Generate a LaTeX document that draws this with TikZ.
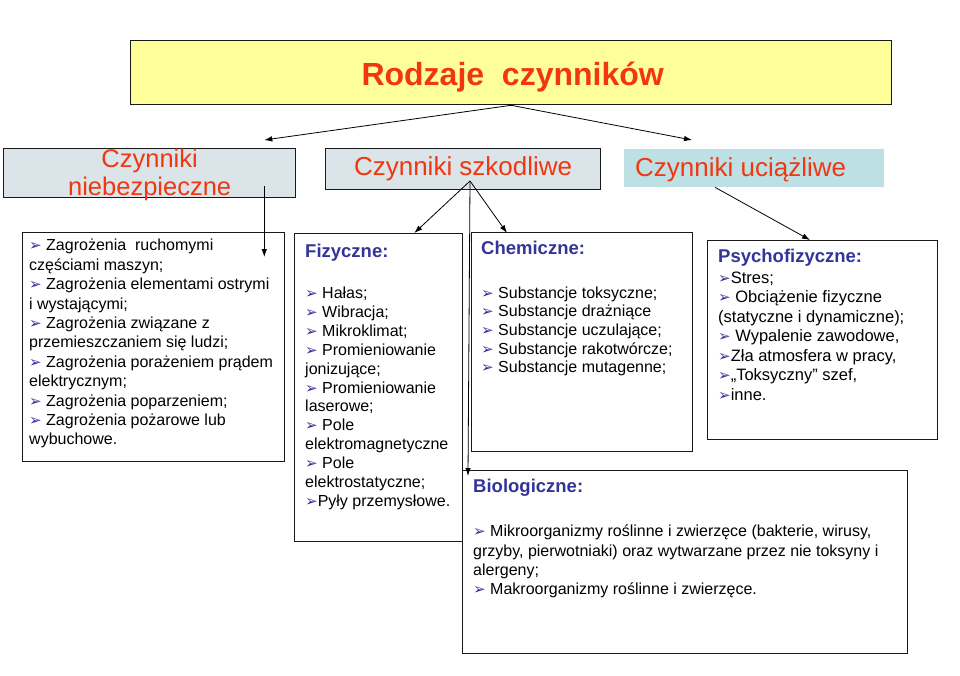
\documentclass[tikz,border=0pt]{standalone}
\usepackage{fontspec}
\setmainfont{Liberation Sans}
\newfontfamily\dingfont{DejaVu Sans}
\usetikzlibrary{positioning, arrows.meta}

\definecolor{headred}{RGB}{240,55,15}
\definecolor{headnavy}{RGB}{51,51,153}
\definecolor{titlefill}{RGB}{255,255,153}
\definecolor{greyblue}{RGB}{218,228,233}
\definecolor{paleteal}{RGB}{189,224,229}

\newcommand{\bul}{{\dingfont\fontsize{15}{15}\selectfont\color{headnavy}➢}}
\newcommand{\boxhead}[1]{{\color{headnavy}\bfseries\fontsize{18.5}{20}\selectfont #1}}

\begin{document}
\begin{tikzpicture}[x=1pt, y=-1pt,
		>={Latex[length=8pt, width=5.5pt]},
		panel/.style={draw=black!90, line width=1.3pt, inner sep=0pt, anchor=north west},
		kind/.style={text=headred, font=\fontsize{26}{28}\selectfont, inner sep=0pt},
		listtext/.style={inner sep=0pt, align=left, font=\fontsize{16}{19.4}\selectfont},
		link/.style={->, line width=0.8pt}
		]
		\useasboundingbox (0,0) rectangle (960,675);
		
		% --- 1. Title ---
		\node[panel, fill=titlefill, minimum width=761pt, minimum height=64pt] (title) at (130,40) {};
		\node[kind, font=\fontsize{32}{34}\selectfont\bfseries] (titlelbl) at ([xshift=1.5pt, yshift=-4pt]title.center) {Rodzaje\ \ czynników};
		
		% --- 2. The three kinds ---
		\node[panel, fill=greyblue, minimum width=292pt, minimum height=49pt] (nieb) at (3,148) {};
		\node[kind, align=center, below=0.5pt of nieb.north, font=\fontsize{25.5}{28}\selectfont] (nieblbl) {Czynniki\\niebezpieczne};
		
		\node[panel, fill=greyblue, minimum width=275pt, minimum height=41pt] (szk) at (325,148) {};
		\node[kind] (szklbl) at (szk.center) {Czynniki szkodliwe};
		
		\node[panel, draw=none, fill=paleteal, minimum width=260pt, minimum height=38pt] (uc) at (623,148) {};
		\node[kind, right=12pt of uc.west, yshift=-2pt] (uclbl) {Czynniki uciążliwe};
		
		% --- 3. Detail boxes ---
		\node[panel, minimum width=262pt, minimum height=229pt] (zag) at (22,232) {};
		\node[listtext, below right=7pt and 7pt of zag.north west] (zagtxt) {%
			\bul{} Zagrożenia\ \ ruchomymi\\
			częściami maszyn;\\
			\bul{} Zagrożenia elementami ostrymi\\
			i wystającymi;\\
			\bul{} Zagrożenia związane z\\
			przemieszczaniem się ludzi;\\
			\bul{} Zagrożenia porażeniem prądem\\
			elektrycznym;\\
			\bul{} Zagrożenia poparzeniem;\\
			\bul{} Zagrożenia pożarowe lub\\
			wybuchowe.};
		
		\node[panel, minimum width=168pt, minimum height=308pt] (fiz) at (294,233) {};
		\node[listtext, font=\fontsize{16}{18.9}\selectfont, below right=11pt and 11pt of fiz.north west] (fiztxt) {%
			\boxhead{Fizyczne:}\\[22pt]
			\bul{} Hałas;\\
			\bul{} Wibracja;\\
			\bul{} Mikroklimat;\\
			\bul{} Promieniowanie\\
			jonizujące;\\
			\bul{} Promieniowanie\\
			laserowe;\\
			\bul{} Pole\\
			elektromagnetyczne\\
			\bul{} Pole\\
			elektrostatyczne;\\
			\bul{}Pyły przemysłowe.};
		
		\node[panel, minimum width=221pt, minimum height=219pt] (chem) at (471,232) {};
		\node[listtext, font=\fontsize{16}{18.6}\selectfont, below right=9pt and 10pt of chem.north west] (chemtxt) {%
			\boxhead{Chemiczne:}\\[25pt]
			\bul{} Substancje toksyczne;\\
			\bul{} Substancje drażniące\\
			\bul{} Substancje uczulające;\\
			\bul{} Substancje rakotwórcze;\\
			\bul{} Substancje mutagenne;};
		
		\node[panel, minimum width=230pt, minimum height=199pt] (psy) at (707,240) {};
		\node[listtext, font=\fontsize{16.5}{19.5}\selectfont, below right=9pt and 11pt of psy.north west] (psytxt) {%
			\boxhead{Psychofizyczne:}\\[1pt]
			\bul{}Stres;\\
			\bul{} Obciążenie fizyczne\\
			(statyczne i dynamiczne);\\
			\bul{} Wypalenie zawodowe,\\
			\bul{}Zła atmosfera w pracy,\\
			\bul{}„Toksyczny” szef,\\
			\bul{}inne.};
		
		\node[panel, minimum width=445pt, minimum height=183pt] (bio) at (462,470) {};
		\node[listtext, font=\fontsize{16}{19.3}\selectfont, below right=9pt and 11pt of bio.north west] (biotxt) {%
			\boxhead{Biologiczne:}\\[25pt]
			\bul{} Mikroorganizmy roślinne i zwierzęce (bakterie, wirusy,\\
			grzyby, pierwotniaki) oraz wytwarzane przez nie toksyny i\\
			alergeny;\\
			\bul{} Makroorganizmy roślinne i zwierzęce.};
		
		% --- 4. Connectors ---
		\coordinate (szkfoot) at (470,181);
		\draw[link] (title.south) -- ([xshift=-32pt, yshift=8pt]nieb.north east);
		\draw[link] (title.south) -- ([xshift=69pt, yshift=8pt]uc.north west);
		\draw[link] ([xshift=-32pt, yshift=12pt]nieb.south east) -- ([xshift=-21pt, yshift=-25pt]zag.north east);
		\draw[link] (szkfoot) -- ([xshift=-49pt]fiz.north east);
		\draw[link] (szkfoot) -- ([xshift=36pt, yshift=-1pt]chem.north west);
		\draw[link] (szkfoot) -- ([xshift=6pt, yshift=-6pt]bio.north west);
		\draw[link] ([xshift=92pt]uc.south west) -- ([xshift=103pt]psy.north west);
		
	\end{tikzpicture}
\end{document}
